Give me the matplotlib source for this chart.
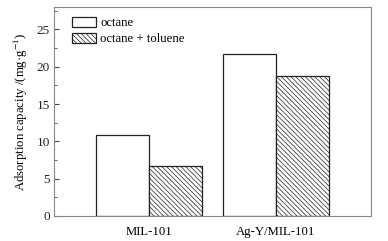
import numpy as np
import matplotlib
matplotlib.use("Agg")
import matplotlib.pyplot as plt
from matplotlib.ticker import MultipleLocator

# Datos
grupos = ["MIL-101", "Ag-Y/MIL-101"]
octano = [10.8, 21.7]
octano_tolueno = [6.75, 18.8]
series = ["octane", "octane + toluene"]

plt.rcParams['font.family'] = ['Liberation Serif', 'DejaVu Serif']
plt.rcParams['mathtext.fontset'] = 'stix'
plt.rcParams['hatch.linewidth'] = 0.5
plt.rcParams['hatch.color'] = '#444444'

fig = plt.figure(figsize=(3.88, 2.41), dpi=100)
ax = fig.add_axes([54/388, 1 - 216/241, 317/388, 209/241])

x = np.arange(len(grupos))
w = 0.418
ax.bar(x - w/2, octano, w, color='white', edgecolor='#222222', linewidth=0.9, label=series[0])
ax.bar(x + w/2, octano_tolueno, w, color='white', edgecolor='#222222', linewidth=0.9,
       hatch='\\\\\\\\\\\\\\', label=series[1])

ax.set_xlim(-0.75, 1.752)
ax.set_ylim(0, 28)
ax.set_xticks(x)
ax.set_xticklabels(grupos, fontsize=9.2)
ax.tick_params(axis='x', length=0, pad=7)
ax.yaxis.set_major_locator(MultipleLocator(5))
ax.yaxis.set_minor_locator(MultipleLocator(2.5))
ax.tick_params(axis='y', which='both', direction='in', labelsize=9.5, colors='#444444',
               labelcolor='#222222', pad=3)
ax.tick_params(axis='y', which='major', length=3.5)
ax.tick_params(axis='y', which='minor', length=2)
for s in ax.spines.values():
    s.set_color('#888888')
    s.set_linewidth(0.8)

ax.set_ylabel("Adsorption capacity /(mg·g$^{-1}$)", fontsize=9.2, labelpad=5)

ax.legend(loc='upper left', fontsize=9.2, frameon=False, handlelength=1.9, handleheight=0.85,
          handletextpad=0.35, labelspacing=0.3, borderaxespad=0.35, bbox_to_anchor=(0.025, 1.0))

fig.savefig("out.png", dpi=100)
